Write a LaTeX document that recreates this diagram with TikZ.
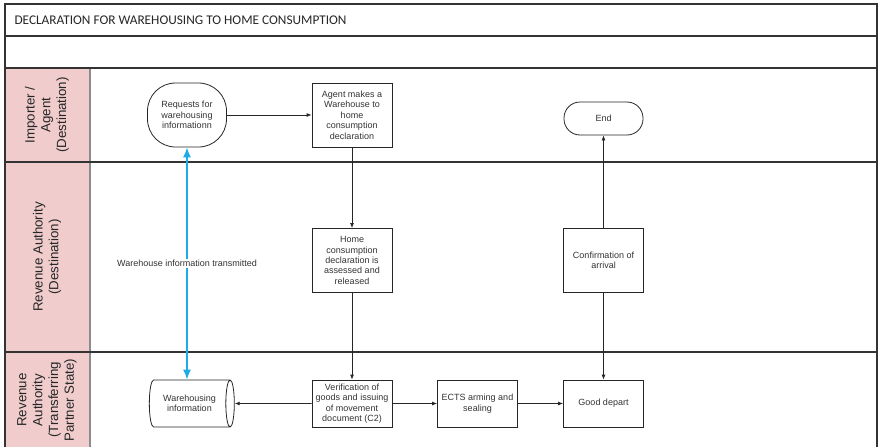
\documentclass[tikz,border=0pt]{standalone}
\usepackage{fontspec}
\setmainfont{Liberation Sans}
\newfontfamily\titlefont{Carlito}
\usetikzlibrary{shapes.geometric,arrows.meta}
\definecolor{lanepink}{RGB}{240,204,204}
\definecolor{infoblue}{RGB}{30,172,232}
\begin{document}
\begin{tikzpicture}[
              x = 1pt, y = -1pt,
              > = {Latex[length=5pt,width=4pt]},
              frame/.style = {draw = black!80, line width = 1.1pt},
              lanehead/.style = {rotate = 90, align = center, text = black!85,
                                 font = \fontsize{13.3}{15.8}\selectfont},
              txt/.style = {align = center, text = black!80, inner sep = 0pt,
                            font = \fontsize{9}{10.4}\selectfont},
              stepbox/.style = {txt, draw = black!85, line width = 0.8pt,
                                minimum width = 80pt, minimum height = 64pt},
              lowbox/.style = {stepbox, minimum height = 47pt},
              terminal/.style = {txt, draw = black!85, line width = 0.8pt,
                                 minimum width = 79pt, rounded corners = 16pt},
              store/.style = {txt, cylinder, draw = black!85, line width = 0.8pt,
                              minimum height = 85pt, minimum width = 47pt, aspect = 0.5},
              flow/.style = {->, draw = black!85, line width = 0.8pt},
              infoline/.style = {{Latex[length=10pt,width=8pt]}-{Latex[length=10pt,width=8pt]},
                                 draw = infoblue, line width = 1.4pt}
            ]
            \useasboundingbox (0,0) rectangle (882,447);
            % lanes
            \fill[lanepink] (5,68) rectangle (90,447);
            \draw[black!45, line width = 2pt] (90,68) -- (90,447);
            \draw[frame] (5,447) -- (5,4) -- (877,4) -- (877,447);
            \draw[frame] (5,36)  -- (877,36);
            \draw[frame] (5,68)  -- (877,68);
            \draw[frame] (5,162) -- (877,162);
            \draw[frame] (5,352) -- (877,352);
            \node[anchor = west, text = black!85, font = \titlefont\fontsize{13.3}{15}\selectfont]
                 (title) at (11,20) {DECLARATION FOR WAREHOUSING TO HOME CONSUMPTION};
            \node[lanehead] (lane1) at (47,115) {Importer /\\ Agent\\ (Destination)};
            \node[lanehead] (lane2) at (47,257) {Revenue Authority\\ (Destination)};
            \node[lanehead] (lane3) at (47,400) {Revenue\\ Authority\\ (Transferring\\ Partner State)};
            % nodes
            \node[terminal, minimum height = 64pt, rounded corners = 28pt]
                 (req)     at (187,115)   {Requests for\\ warehousing\\ informationn};
            \node[stepbox] (agent)   at (352,115)   {Agent makes a\\ Warehouse to\\ home\\ consumption\\ declaration};
            \node[terminal, minimum height = 33pt]
                 (done)    at (603.5,118.5) {End};
            \node[stepbox] (home)    at (352,260.5) {Home\\ consumption\\ declaration is\\ assessed and\\ released};
            \node[stepbox] (confirm) at (603.5,260.5) {Confirmation of\\ arrival};
            \node[store]   (wh)      at (189.5,403.5) {Warehousing\\ information};
            \node[lowbox]  (verif)   at (352,403.5) {Verification of\\ goods and issuing\\ of movement\\ document (C2)};
            \node[lowbox]  (ects)    at (477.5,403.5) {ECTS arming and\\ sealing};
            \node[lowbox]  (depart)  at (603.5,403.5) {Good depart};
            % the flow
            \draw[flow] (req)     -- (agent);
            \draw[flow] (agent)   -- (home);
            \draw[flow] (home)    -- (verif);
            \draw[flow] (verif)   -- (wh.east);
            \draw[flow] (verif)   -- (ects);
            \draw[flow] (ects)    -- (depart);
            \draw[flow] (confirm) -- (done);
            \draw[flow] (confirm) -- (depart);
            % the information link
            \draw[infoline] (req.south) -- node[txt, fill = white, inner sep = 1pt] (sent)
                            {Warehouse information transmitted} (req.south |- wh.north);
          \end{tikzpicture}
\end{document}
